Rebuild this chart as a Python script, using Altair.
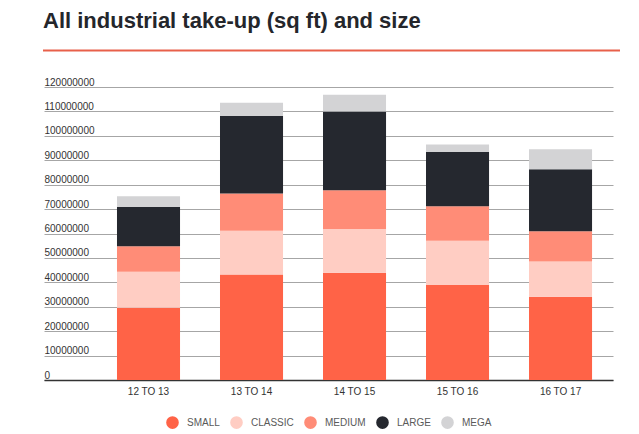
import altair as alt
import pandas as pd

title_text = "All industrial take-up (sq ft) and size"
periods = ["12 TO 13", "13 TO 14", "14 TO 15", "15 TO 16", "16 TO 17"]
sizes = ["SMALL", "CLASSIC", "MEDIUM", "LARGE", "MEGA"]
colors = ["#FF6347", "#FFCDC3", "#FF8C77", "#25282F", "#D3D3D5"]

small = [29600000, 43200000, 43900000, 38900000, 34100000]
classic = [14700000, 17900000, 17900000, 18100000, 14400000]
medium = [10500000, 15300000, 15900000, 14200000, 12400000]
large = [16100000, 31700000, 32300000, 22200000, 25400000]
mega = [4400000, 5500000, 6800000, 3100000, 8200000]

y_ticks = list(range(0, 120000001, 10000000))

series = [small, classic, medium, large, mega]
rows = []
for k, (name, vals) in enumerate(zip(sizes, series)):
    for p, v in zip(periods, vals):
        rows.append({"period": p, "size": name, "value": v, "rank": k})
df = pd.DataFrame(rows)

FONT = "Liberation Sans"

bars = alt.Chart(df).mark_bar().encode(
    x=alt.X("period:N", sort=periods, title=None,
            scale=alt.Scale(paddingInner=0.388, paddingOuter=0.456, align=0.777),
            axis=alt.Axis(labelAngle=0, ticks=False, labelPadding=6, labelFontSize=10,
                          labelColor="#333333", domainColor="#333333", domainWidth=1.5,
                          labelFont=FONT, grid=False)),
    y=alt.Y("value:Q", title=None, stack="zero",
            scale=alt.Scale(domain=[0, 120000000], nice=False),
            axis=alt.Axis(values=y_ticks, format="d", ticks=False, tickSize=0, domain=False,
                          labelAlign="left", labelBaseline="bottom", labelPadding=0,
                          labelFontSize=10, labelColor="#333333", labelFont=FONT,
                          gridColor="#A6A6A6", gridWidth=1)),
    color=alt.Color("size:N", title=None,
                    scale=alt.Scale(domain=sizes, range=colors),
                    legend=alt.Legend(orient="none", direction="horizontal",
                                      legendX=122, legendY=329, symbolType="circle",
                                      symbolSize=160, symbolStrokeWidth=0,
                                      labelFontSize=10, labelColor="#5A5A5A",
                                      labelFont=FONT, labelOffset=8, columnPadding=10)),
    order=alt.Order("rank:Q", sort="ascending"),
)

rule_df = pd.DataFrame({"r": [0]})
red_line = alt.Chart(rule_df).mark_rule(color="#E8604A", strokeWidth=2).encode(
    x=alt.value(-1), x2=alt.value(576), y=alt.value(-36.5)
)

title_df = pd.DataFrame({"t": [title_text]})
title = alt.Chart(title_df).mark_text(
    align="left", baseline="alphabetic", fontSize=22, fontWeight="bold",
    color="#24262B", font=FONT
).encode(text="t:N", x=alt.value(-1), y=alt.value(-59.5))

chart = alt.layer(bars, red_line, title).properties(
    width=569,
    height=293,
    autosize=alt.AutoSizeParams(type="none"),
    padding={"left": 36, "top": 79, "right": 18, "bottom": 52},
).configure_view(stroke=None)

chart.save("out.html", embed_options={"renderer": "svg", "actions": False})
